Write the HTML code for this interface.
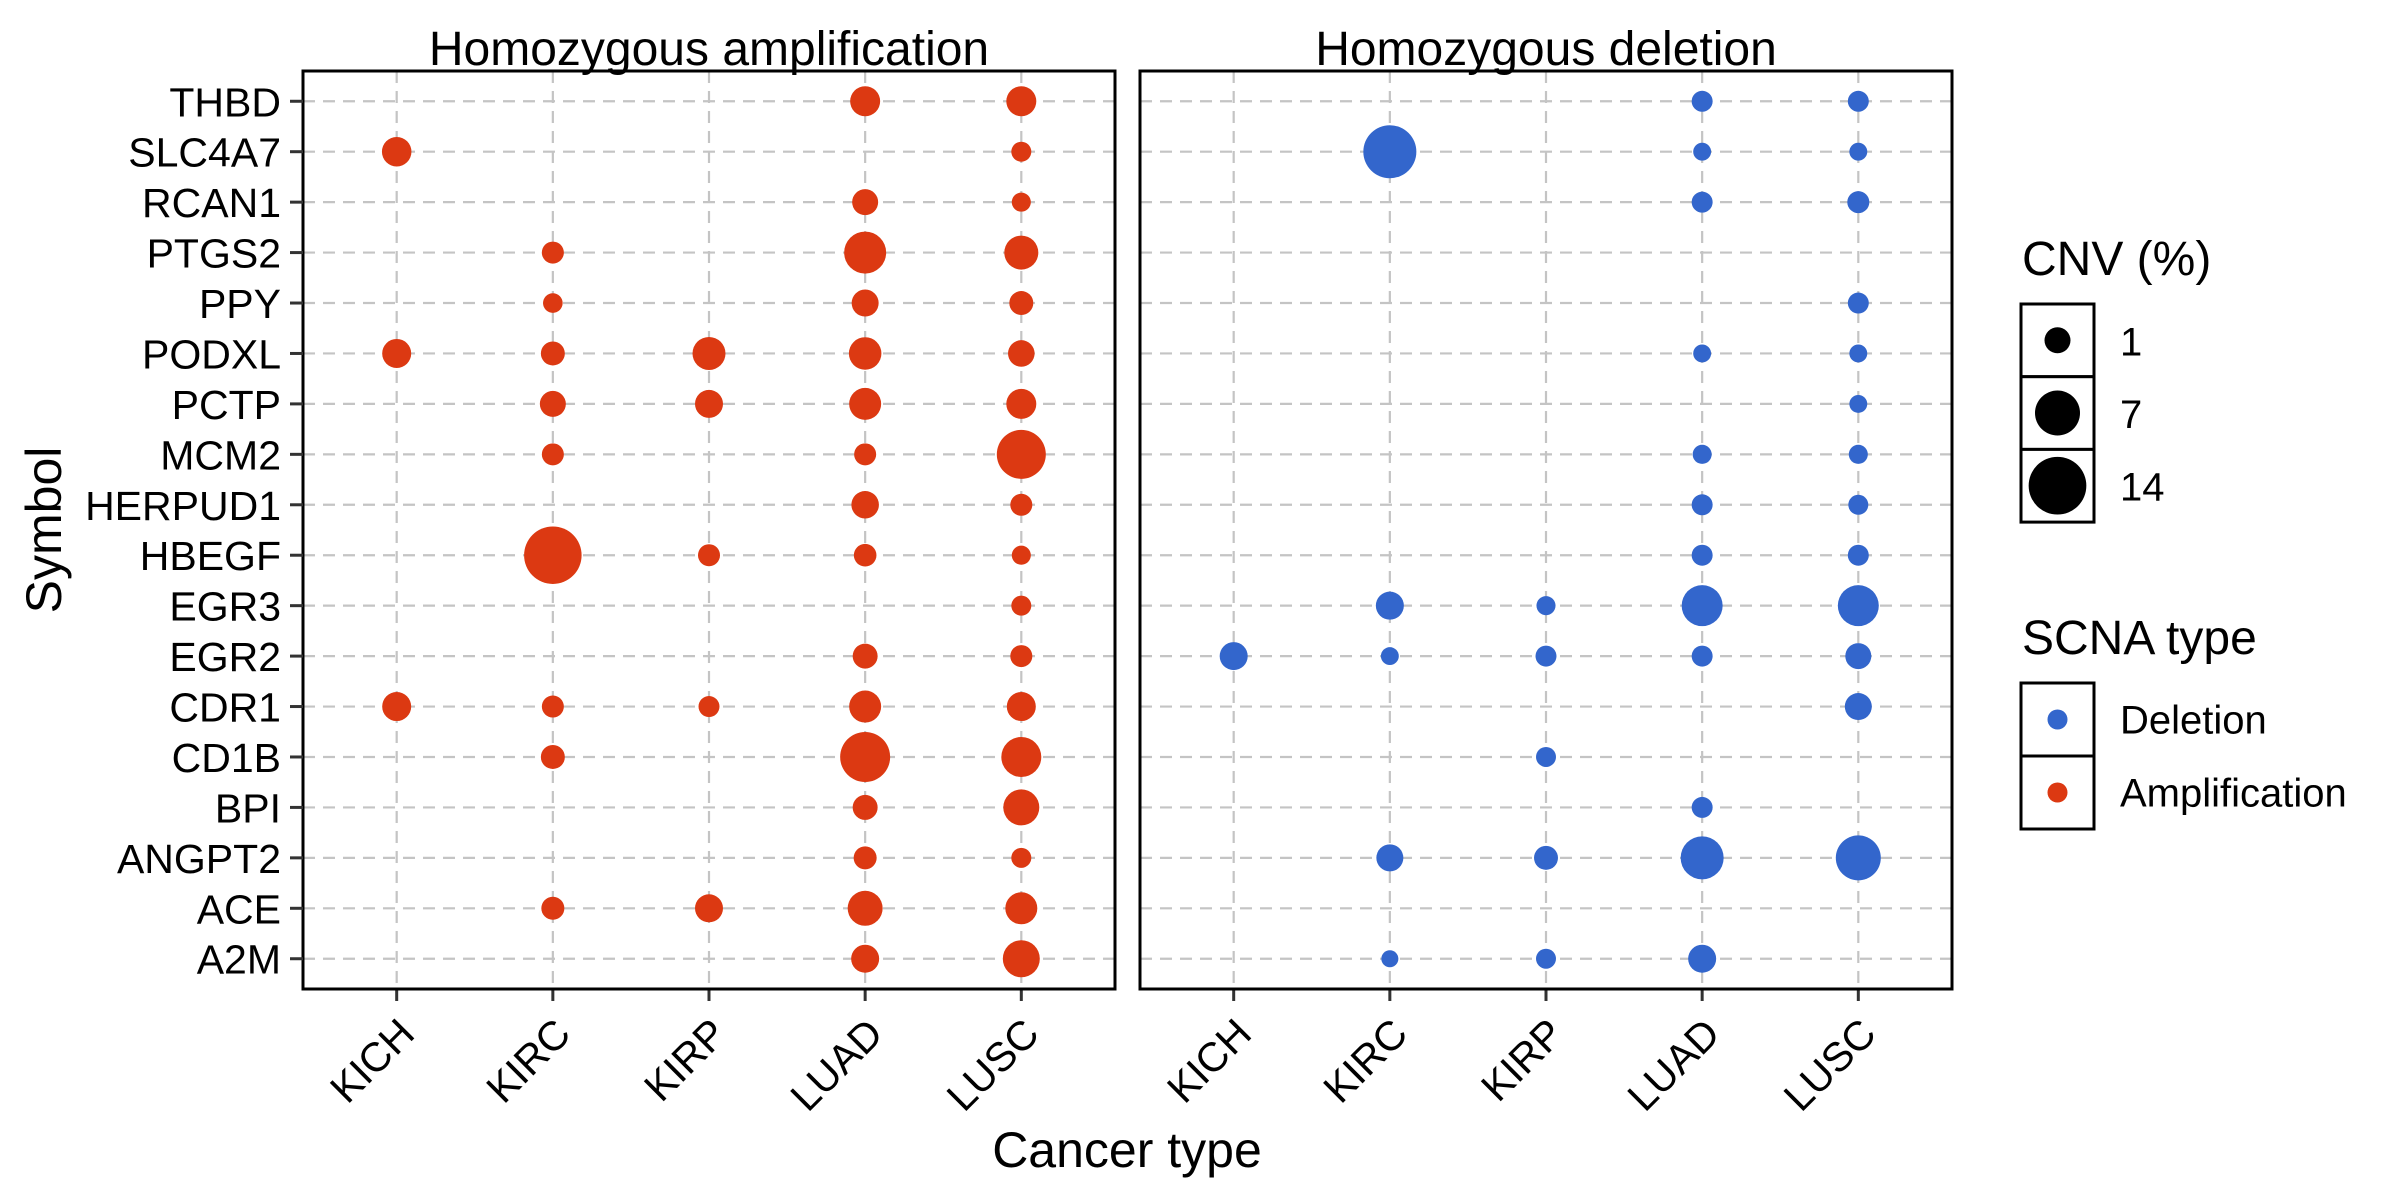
<!DOCTYPE html>
<html><head><meta charset="utf-8"><style>
html,body{margin:0;padding:0;background:#fff;}
svg{display:block;font-family:"Liberation Sans",Arial,sans-serif;}
</style></head><body>
<svg id="chart" width="2400" height="1200" viewBox="0 0 2400 1200" xmlns="http://www.w3.org/2000/svg">
<rect width="2400" height="1200" fill="#fff"/>
</svg>
<script>
const symbols = ["THBD","SLC4A7","RCAN1","PTGS2","PPY","PODXL","PCTP","MCM2","HERPUD1","HBEGF","EGR3","EGR2","CDR1","CD1B","BPI","ANGPT2","ACE","A2M"];
const cancerTypes = ["KICH","KIRC","KIRP","LUAD","LUSC"];
const ampValues = [
 [null,null,null,1.81,1.81],
 [1.7,null,null,null,0.23],
 [null,null,null,1.0,0.16],
 [null,0.43,null,5.69,2.87],
 [null,0.2,null,1.18,0.68],
 [1.59,0.68,2.58,2.45,1.1],
 [null,1.0,1.38,2.31,1.81],
 [null,0.43,null,0.43,8.95],
 [null,null,null,1.28,0.43],
 [null,13.9,0.43,0.5,0.16],
 [null,null,null,null,0.23],
 [null,null,null,0.83,0.43],
 [1.59,0.43,0.32,2.31,1.59],
 [null,0.68,null,9.48,4.89],
 [null,null,null,0.83,3.48],
 [null,null,null,0.55,0.23],
 [null,0.55,1.38,3.16,2.31],
 [null,null,null,1.38,3.81]
];
const delValues = [
 [null,null,null,0.32,0.32],
 [null,11.15,null,0.09,0.09],
 [null,null,null,0.32,0.43],
 [null,null,null,null,null],
 [null,null,null,null,0.32],
 [null,null,null,0.09,0.09],
 [null,null,null,null,0.09],
 [null,null,null,0.16,0.16],
 [null,null,null,0.32,0.23],
 [null,null,null,0.32,0.32],
 [null,1.38,0.16,5.28,5.28],
 [1.38,0.09,0.32,0.32,1.0],
 [null,null,null,null,1.18],
 [null,null,0.23,null,null],
 [null,null,null,0.32,null],
 [null,1.18,0.68,6.11,7.0],
 [null,null,null,null,null],
 [null,0.05,0.23,1.38,null]
];
const sizeBreaks = [1,7,14];
const scnaTypes = ["Deletion","Amplification"];

const NS="http://www.w3.org/2000/svg";
const svg=document.getElementById('chart');
function mk(tag,attrs,parent){const e=document.createElementNS(NS,tag);for(const k in attrs)e.setAttribute(k,attrs[k]);(parent||svg).appendChild(e);return e;}
const AMP="#DC3912", DEL="#3366CC";
const yTop=71,yBottom=989;
const rowStep=(yBottom-yTop)/(symbols.length-1+1.2);
function yPos(i){return yTop+rowStep*(0.6+i);}
function diam(v){return 14.45+11.55*Math.sqrt(v);}
const panels=[{x0:303,x1:1115,title:"Homozygous amplification",vals:ampValues,col:AMP,name:"amplification"},
              {x0:1140,x1:1952,title:"Homozygous deletion",vals:delValues,col:DEL,name:"deletion"}];
panels.forEach((p,pi)=>{
  const colStep=(p.x1-p.x0)/(cancerTypes.length-1+1.2);
  const xPos=j=>p.x0+colStep*(0.6+j);
  const g=mk('g',{});
  
  
  symbols.forEach((s,i)=>{
    const l=mk('line',{x1:p.x0,x2:p.x1,y1:yPos(i),y2:yPos(i),stroke:"#c4c4c4","stroke-width":2.2,"stroke-dasharray":"12 8"},g);
    
    
  });
  cancerTypes.forEach((c,j)=>{
    const l=mk('line',{x1:xPos(j),x2:xPos(j),y1:yTop,y2:yBottom,stroke:"#c4c4c4","stroke-width":2.2,"stroke-dasharray":"12 8"},g);
    
    
    const t=mk('line',{x1:xPos(j),x2:xPos(j),y1:yBottom,y2:yBottom+12,stroke:"#333","stroke-width":3},g);
    
    
    const ax=xPos(j)+20, ay=1036;
    const lab=mk('text',{x:ax,y:ay,"font-size":41,"text-anchor":"end",transform:`rotate(-45 ${ax} ${ay})`,fill:"#000"},g);
    lab.textContent=c;
    
    
  });
  p.vals.forEach((row,i)=>row.forEach((v,j)=>{
    if(v==null)return;
    const c=mk('circle',{cx:xPos(j),cy:yPos(i),r:diam(v)/2,fill:p.col},g);
    
    
  }));
  const b=mk('rect',{x:p.x0,y:yTop,width:p.x1-p.x0,height:yBottom-yTop,fill:"none",stroke:"#000","stroke-width":3},g);
  
  
  const tt=mk('text',{x:(p.x0+p.x1)/2,y:65,"font-size":48,"text-anchor":"middle",fill:"#000"},g);
  tt.textContent=p.title;
  
  
});
symbols.forEach((s,i)=>{
  const t=mk('line',{x1:290,x2:303,y1:yPos(i),y2:yPos(i),stroke:"#333","stroke-width":3});
  
  
  const lab=mk('text',{x:281,y:yPos(i)+15,"font-size":41,"text-anchor":"end",fill:"#000"});
  lab.textContent=s;
  
  
});
const xt=mk('text',{x:1127,y:1167,"font-size":50,"text-anchor":"middle",fill:"#000"});
xt.textContent="Cancer type";


const yt=mk('text',{x:61,y:530,"font-size":50,"text-anchor":"middle",transform:"rotate(-90 61 530)",fill:"#000"});
yt.textContent="Symbol";



// size legend
const lt=mk('text',{x:2022,y:275,"font-size":48,fill:"#000"});
lt.textContent="CNV (%)";


sizeBreaks.forEach((v,k)=>{
  const y0=304+k*72.7;
  const r=mk('rect',{x:2021,y:y0,width:73,height:72.7,fill:"#fff",stroke:"#000","stroke-width":3});
  
  
  const c=mk('circle',{cx:2057.5,cy:y0+36.3,r:diam(v)/2,fill:"#000"});
  
  
  const t=mk('text',{x:2120,y:y0+36.3+15,"font-size":40,fill:"#000"});
  t.textContent=String(v);
  
  
});
const lt2=mk('text',{x:2022,y:654,"font-size":48,fill:"#000"});
lt2.textContent="SCNA type";


scnaTypes.forEach((s,k)=>{
  const y0=683+k*73;
  const r=mk('rect',{x:2021,y:y0,width:73,height:73,fill:"#fff",stroke:"#000","stroke-width":3});
  
  
  const c=mk('circle',{cx:2057.5,cy:y0+36.5,r:10,fill:s==="Deletion"?DEL:AMP});
  
  
  const t=mk('text',{x:2120,y:y0+36.5+14,"font-size":40,fill:"#000"});
  t.textContent=s;
  
  
});
</script>
</body></html>
